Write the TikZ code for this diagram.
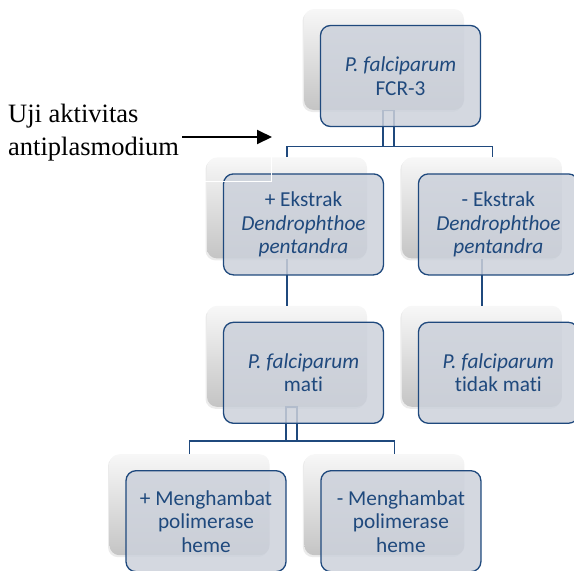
\documentclass[tikz,border=0pt]{standalone}
\usepackage{fontspec}
\setmainfont{Carlito}[Ligatures=NoCommon]
\newfontfamily\timesfont{Liberation Serif}
\usetikzlibrary{arrows.meta,shapes,positioning,shadows}

\definecolor{tierblue}{RGB}{31,73,125}
\definecolor{tierfill}{RGB}{204,209,219}

\begin{document}
\begin{tikzpicture}[x=1pt, y=-1pt, node distance=47pt and 34.5pt,
    tierback/.style={rectangle, rounded corners=10pt, minimum width=160pt, minimum height=101pt,
        top color=black!3, middle color=black!7, bottom color=black!23,
        drop shadow={fill=black, opacity=0.08, shadow xshift=-1.5pt, shadow yshift=-2pt}},
    tierbox/.style={rectangle, rounded corners=10pt, draw=tierblue, line width=1.3pt,
        fill=tierfill, fill opacity=0.85, text opacity=1, text=tierblue,
        minimum width=160pt, minimum height=101pt, align=center,
        font=\fontsize{21.3}{23.5}\selectfont, xshift=16.5pt, yshift=-16.5pt},
    tierline/.style={draw=tierblue, line width=1.3pt}]
            \useasboundingbox (0,0) rectangle (574,571);
            \clip (0,0) rectangle (574,571);

            % grey blocks behind the boxes
            \node[tierback] (fcr-s) at (384,59.5) {};
            \node[tierback] (ekp-s) [below=of fcr-s, xshift=-97pt] {};
            \node[tierback] (ekm-s) [right=of ekp-s] {};
            \node[tierback] (mati-s) [below=of ekp-s] {};
            \node[tierback] (hidup-s) [right=of mati-s] {};
            \node[tierback] (hbp-s) [below=of mati-s, xshift=-97.5pt] {};
            \node[tierback] (hbm-s) [right=of hbp-s] {};

            % connectors
            \draw[tierline] ([xshift=-1pt]fcr-s.south) rectangle ++(11,36);
            \draw[tierline] (ekp-s.north) -- ++(0,-11) -| ([xshift=10.5pt]ekm-s.north);
            \draw[tierline] (ekp-s.south) -- (mati-s.north);
            \draw[tierline] (ekm-s.south) -- (hidup-s.north);
            \draw[tierline] ([xshift=-1pt]mati-s.south) rectangle ++(11,34);
            \draw[tierline] (hbp-s.north) -- ++(0,-13) -| ([xshift=10pt]hbm-s.north);

            % boxes
            \node[tierbox] (fcr) at (fcr-s) {\textit{P. falciparum}\\FCR-3};
            \node[tierbox] (ekp) at (ekp-s) {+ Ekstrak\\\textit{Dendrophthoe}\\\textit{pentandra}};
            \node[tierbox] (ekm) at (ekm-s) {- Ekstrak\\\textit{Dendrophthoe}\\\textit{pentandra}};
            \node[tierbox] (mati) at (mati-s) {\textit{P. falciparum}\\mati};
            \node[tierbox] (hidup) at (hidup-s) {\textit{P. falciparum}\\tidak mati};
            \node[tierbox] (hbp) at (hbp-s) {+ Menghambat\\polimerase\\heme};
            \node[tierbox] (hbm) at (hbm-s) {- Menghambat\\polimerase\\heme};

            % label and arrow
            \node[font=\timesfont\fontsize{26.5}{33}\selectfont, align=left, inner sep=0pt, anchor=north west] (uji) at (8,104) {Uji aktivitas\\antiplasmodium};
            \node[draw=white, line width=1.2pt, inner sep=0pt, minimum width=266pt, minimum height=100pt, anchor=south east] (ujibox) at (272,182) {};
            \coordinate (tip) at (272,137);
            \draw[-{Triangle[length=15pt,width=14pt]}, line width=2pt] ([xshift=3pt]uji.east |- tip) -- (tip);
          \end{tikzpicture}
\end{document}
